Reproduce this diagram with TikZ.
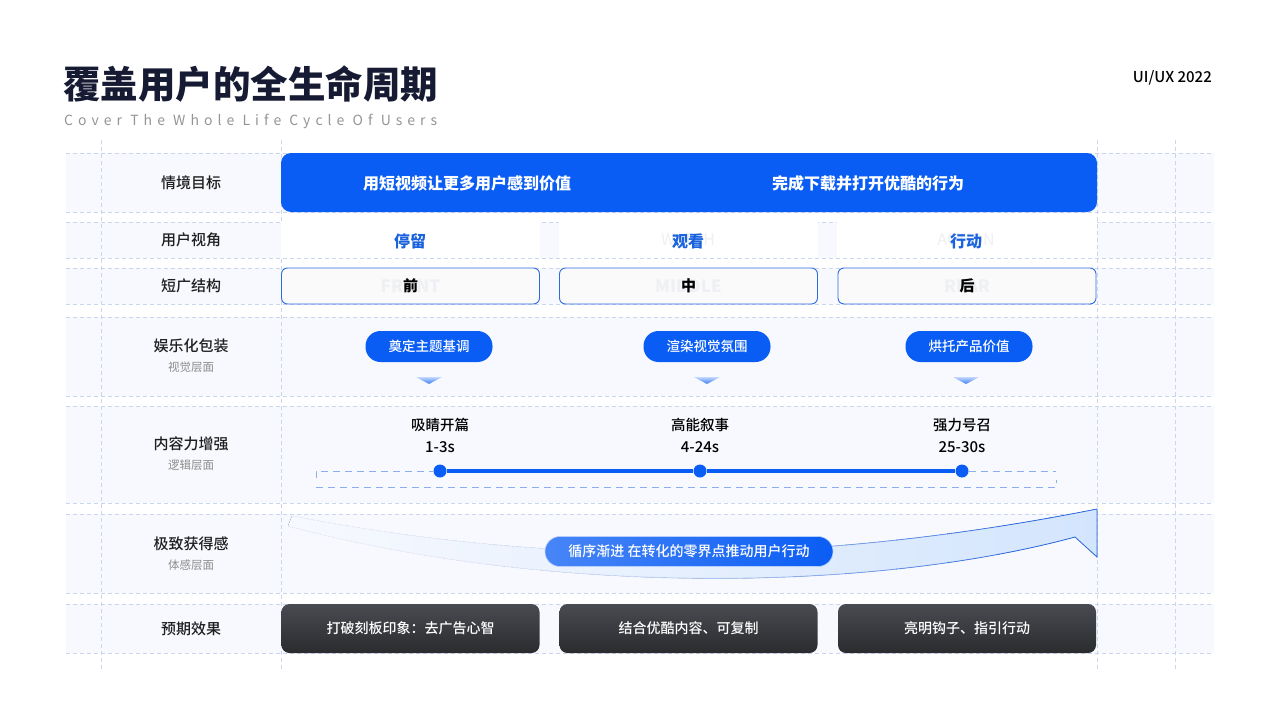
\documentclass[tikz,border=0pt]{standalone}
\usepackage{fontspec}
\setmainfont{Noto Sans CJK SC}
\newfontfamily\spacedfont{Noto Sans CJK SC}[LetterSpace=36]
\newfontfamily\titlefont{Noto Sans CJK SC Black}
\newfontfamily\medfont{Noto Sans CJK SC Medium}
\usetikzlibrary{positioning,calc}
\definecolor{cBlue}{HTML}{0A5DF4}
\definecolor{cBlueTxt}{HTML}{1A62DE}
\definecolor{cBand}{HTML}{F7F9FE}
\definecolor{cGrid}{HTML}{C9D6EE}
\definecolor{cNavy}{HTML}{161B33}
\definecolor{cGhost}{HTML}{EEF0F3}
\definecolor{cDarkTop}{HTML}{4A4B50}
\definecolor{cDarkBot}{HTML}{2A2B2F}
\definecolor{cSwoosh}{HTML}{D3E5FD}
\definecolor{cEdge}{HTML}{2D6BE2}

\begin{document}
\begin{tikzpicture}[x=1pt,y=-1pt,
  gridline/.style={cGrid,dash pattern=on 4pt off 3pt,line width=0.6pt},
  rowlbl/.style={font=\medfont\fontsize{15}{15}\selectfont,text=black!88},
  sublbl/.style={font=\fontsize{11.5}{11.5}\selectfont,text=black!45},
  pill/.style={fill=cBlue,rounded corners=15pt,minimum width=127pt,minimum height=31pt,
    inner sep=0pt,text=white,font=\medfont\fontsize{13.5}{13.5}\selectfont},
  part/.style={draw=cEdge,fill=black!2,rounded corners=6pt,line width=0.9pt,
    minimum width=258pt,minimum height=36pt,inner sep=0pt},
  result/.style={top color=cDarkTop,bottom color=cDarkBot,rounded corners=8pt,
    minimum width=258pt,minimum height=49pt,inner sep=0pt,text=white,font=\medfont\fontsize{14}{14}\selectfont},
  ghost/.style={text=cGhost,font=\bfseries\fontsize{17}{17}\selectfont},
  tdot/.style={circle,fill=cBlue,inner sep=0pt,minimum size=13pt},
  swooshpath/.style={line width=0.8pt}]
 \useasboundingbox (0,0) rectangle (1280,720);
 % ---- title ----
 \node[anchor=west,inner sep=0pt,text=cNavy,font=\titlefont\fontsize{37.5}{37.5}\selectfont] (title) at (63,84) {覆盖用户的全生命周期};
 \node[anchor=west,inner sep=0pt,text=black!42,font=\spacedfont\fontsize{14}{14}\selectfont] (subtitle) at (64,121) {Cover The Whole Life Cycle Of Users};
 \node[anchor=east,inner sep=0pt,font=\medfont\fontsize{15}{15}\selectfont] (tag) at (1212,78) {UI/UX 2022};
 % ---- grid ----
 \foreach \ya/\yb in {153/212,222/258,268/304,317/396,406/503,514/593,604/653}{
   \fill[cBand] (66,\ya) rectangle (1214,\yb);
   \draw[gridline] (66,\ya) -- (1214,\ya);
   \draw[gridline] (66,\yb) -- (1214,\yb);
 }
 \foreach \x in {101,281,1097,1175} \draw[gridline] (\x,140) -- (\x,672);
 % ---- row labels ----
 \node[rowlbl] (lbl1) at (191,183) {情境目标};
 \node[rowlbl] (lbl2) at (191,240) {用户视角};
 \node[rowlbl] (lbl3) at (191,286) {短广结构};
 \node[rowlbl] (lbl4) at (191,346) {娱乐化包装};
 \node[sublbl] (sub4) at (191,367) {视觉层面};
 \node[rowlbl] (lbl5) at (191,444) {内容力增强};
 \node[sublbl] (sub5) at (191,465) {逻辑层面};
 \node[rowlbl] (lbl6) at (191,544) {极致获得感};
 \node[sublbl] (sub6) at (191,565) {体感层面};
 \node[rowlbl] (lbl7) at (191,629) {预期效果};
 % ---- goal ----
 \node[fill=cBlue,rounded corners=10pt,minimum width=816pt,minimum height=59pt,inner sep=0pt] (goal) at (689,182.5) {};
 \node[text=white,font=\bfseries\fontsize{16}{16}\selectfont] (goalA) at (467,183) {用短视频让更多用户感到价值};
 \node[text=white,font=\bfseries\fontsize{16}{16}\selectfont] (goalB) at (868,183) {完成下载并打开优酷的行为};
 % ---- user view ----
 \fill[white] (281,222) rectangle (540,258);
 \fill[white] (559,222) rectangle (818,258);
 \fill[white] (837,222) rectangle (1097,258);
 \node[ghost,font=\fontsize{16}{16}\selectfont] at (688,240) {WATCH};
 \node[ghost,font=\fontsize{16}{16}\selectfont] at (966,240) {ACTION};
 \node[text=cBlueTxt,font=\bfseries\fontsize{16}{16}\selectfont] (stay) at (410,241) {停留};
 \node[text=cBlueTxt,font=\bfseries\fontsize{16}{16}\selectfont] (watch) at (688,241) {观看};
 \node[text=cBlueTxt,font=\bfseries\fontsize{16}{16}\selectfont] (act) at (966,241) {行动};
 % ---- structure ----
 \node[part] (front) at (410.5,286) {};
 \node[part] (middle) at (688.5,286) {};
 \node[part] (rear) at (967,286) {};
 \foreach \n/\en/\cn in {front/FRONT/前,middle/MIDDLE/中,rear/REAR/后}{
   \node[ghost] at (\n) {\en};
   \node[font=\bfseries\fontsize{15}{15}\selectfont] at (\n) {\cn};
 }
 % ---- packaging ----
 \node[pill] (tone) at (429,346.5) {奠定主题基调};
 \node[pill] (mood) at (707,346.5) {渲染视觉氛围};
 \node[pill] (value) at (969,346.5) {烘托产品价值};
 \foreach \x in {429,707,966}
   \shade[top color=cBlue!25,bottom color=cBlue!80] (\x-13,377) -- (\x+13,377) -- (\x,384) -- cycle;
 % ---- timeline ----
 \node[font=\medfont\fontsize{14.5}{14.5}\selectfont] (open) at (440,425) {吸睛开篇};
 \node[font=\medfont\fontsize{15}{15}\selectfont] (openT) at (440,447) {1-3s};
 \node[font=\medfont\fontsize{14.5}{14.5}\selectfont] (story) at (700,425) {高能叙事};
 \node[font=\medfont\fontsize{15}{15}\selectfont] (storyT) at (700,447) {4-24s};
 \node[font=\medfont\fontsize{14.5}{14.5}\selectfont] (call) at (962,425) {强力号召};
 \node[font=\medfont\fontsize{15}{15}\selectfont] (callT) at (962,447) {25-30s};
 \coordinate (bl) at (316,471); \coordinate (br) at (1056,471);
 \coordinate (bl2) at (316,487); \coordinate (br2) at (1056,487);
 \node[tdot] (t1) at (440,471) {};
 \node[tdot] (t2) at (700,471) {};
 \node[tdot] (t3) at (962,471) {};
 \draw[cEdge!55,dash pattern=on 7pt off 5pt,line width=0.7pt] (bl) ++(0,7) -- (bl) -- (t1);
 \draw[cEdge!55,dash pattern=on 7pt off 5pt,line width=0.7pt] (t3) -- (br);
 \draw[cEdge!55,dash pattern=on 7pt off 5pt,line width=0.7pt] (bl2) -- (br2) -- ++(0,-7);
 \draw[cBlue,line width=4.5pt] (t1) -- (t2) -- (t3);
 % ---- swoosh ----
 \fill[left color=cBand,right color=cSwoosh]
   (292,516) .. controls (520,560) and (780,572) .. (1097,509) -- (1097,557) -- (1075,537)
   .. controls (880,590) and (560,598) .. (288,526) -- cycle;
 % edge gets stronger to the right
 \foreach \i in {0,...,15}{
   \pgfmathsetmacro{\shadeval}{min(100,4+\i*\i*0.5)}
   \begin{scope}
     \clip (284+\i*51,500) rectangle ++(52,100);
     \draw[cEdge!\shadeval!cBand,swooshpath]
       (292,516) .. controls (520,560) and (780,572) .. (1097,509) -- (1097,557) -- (1075,537)
       .. controls (880,590) and (560,598) .. (288,526);
   \end{scope}
 }
 \node[left color=cBlue!75!white,right color=cBlue,draw=cBlue!30,line width=0.6pt,rounded corners=15pt,
   minimum width=288pt,minimum height=30pt,inner sep=0pt,text=white,font=\medfont\fontsize{14}{14}\selectfont]
   (slogan) at (689,551.5) {循序渐进 在转化的零界点推动用户行动};
 % ---- results ----
 \node[result] (res1) at (410.5,628.5) {打破刻板印象：去广告心智};
 \node[result] (res2) at (688.5,628.5) {结合优酷内容、可复制};
 \node[result] (res3) at (967,628.5) {亮明钩子、指引行动};
\end{tikzpicture}
\end{document}
